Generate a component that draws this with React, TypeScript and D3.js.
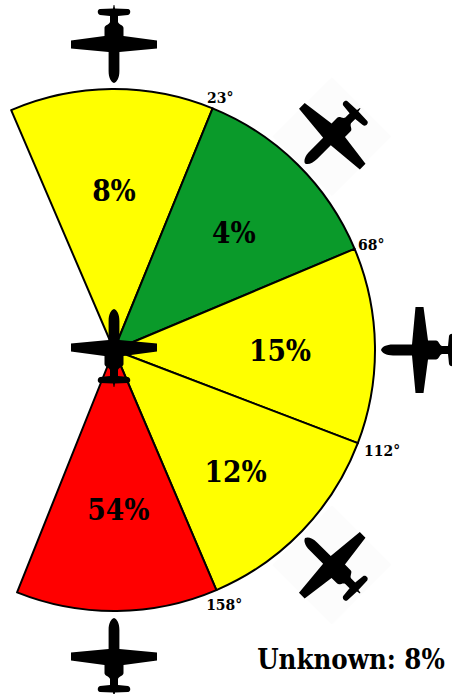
import React from "react";
import * as d3 from "d3";

const boundaries = [-23.2, 22.2, 67.2, 110.9, 156.9, 201.8];
const sectorColors = ["#ffff00", "#0a9a2a", "#ffff00", "#ffff00", "#ff0000"];
const sectorLabels = ["8%", "4%", "15%", "12%", "54%"];
const labelRadii = [160, 168, 166, 172, 160];
const labelAngles = [0, 45.5, 90, 135, 179];
const tickLabels = ["23°", "68°", "112°", "158°"];
const tickAngles = [22.2, 67.2, 110.9, 156.9];
const tickDx = [3.5, 6.5, 14, 3.5];
const tickDy = [-1, 0, 3, 4];
const planeHeadings = [0, 45, 90, 135, 180];
const planeAngles = [0, 45.6, 90, 134.6, 180];
const planeRadii = [305, 305, 305, 306, 306];
const unknownLabel = "Unknown: 8%";

const W = 452, H = 694, cx = 114, cy = 350, R = 261;
const FONT = "'DejaVu Serif Condensed', 'DejaVu Serif', serif";
const rad = d3.scaleLinear().domain([0, 360]).range([0, 2 * Math.PI]);

const planePath =
  "M0,-38 C-3,-37 -5.4,-33 -5.4,-26 L-5.4,-7 L-43,-3.5 L-43,4.5 L-9.5,9 L-9.5,17 C-9.5,20 -5,20 -4,23 L-4,29 L-14,30 C-17,31 -17,35.5 -14,36 L-1,36.5 L-0.4,40 L0.4,40 L1,36.5 L14,36 C17,35.5 17,31 14,30 L4,29 L4,23 C5,20 9.5,20 9.5,17 L9.5,9 L43,4.5 L43,-3.5 L5.4,-7 L5.4,-26 C5.4,-33 3,-37 0,-38 Z";

const Plane = ({ x, y, rotate, bg }: { x: number; y: number; rotate: number; bg?: boolean }) => (
  <g transform={`translate(${x},${y}) rotate(${rotate})`}>
    {bg && <rect x={-42} y={-42} width={84} height={84} fill="#fcfcfc" />}
    <path d={planePath} fill="#000" />
  </g>
);

export default function App() {
  const arc = d3.arc<any>().innerRadius(0).outerRadius(R);
  const sectors = sectorColors.map((color, i) => ({
    color,
    d: arc({ startAngle: rad(boundaries[i]), endAngle: rad(boundaries[i + 1]) }) as string,
  }));
  return (
    <svg width={W} height={H} viewBox={`0 0 ${W} ${H}`} style={{ position: "absolute", left: 0, top: 0 }}>
      <rect width={W} height={H} fill="#fff" />
      {planeHeadings.map((h, i) => {
        const [x, y] = d3.pointRadial(rad(planeAngles[i]), planeRadii[i]);
        return <Plane key={h} x={cx + x} y={cy + y} rotate={h + 180} bg={h % 90 !== 0} />;
      })}
      <g transform={`translate(${cx},${cy})`}>
        {sectors.map((s, i) => (
          <path key={i} d={s.d} fill={s.color} stroke="#000" strokeWidth={2} strokeLinejoin="round" />
        ))}
        {sectorLabels.map((t, i) => {
          const [x, y] = d3.pointRadial(rad(labelAngles[i]), labelRadii[i]);
          return (
            <text key={t} x={x + (i === 4 ? 1.5 : 0)} y={y} textAnchor="middle" dominantBaseline="central" fontFamily={FONT} fontWeight="bold" fontSize={29.5}>
              {t}
            </text>
          );
        })}
        {tickLabels.map((t, i) => {
          const [x, y] = d3.pointRadial(rad(tickAngles[i]), 272);
          return (
            <text key={t} x={x + tickDx[i]} y={y + tickDy[i]} textAnchor="middle" dominantBaseline="central" fontFamily={FONT} fontWeight="bold" fontSize={15.5}>
              {t}
            </text>
          );
        })}
      </g>
      <Plane x={cx} y={347} rotate={0} />
      <text x={351} y={659} textAnchor="middle" dominantBaseline="central" fontFamily={FONT} fontWeight="bold" fontSize={27.3}>
        {unknownLabel}
      </text>
    </svg>
  );
}
